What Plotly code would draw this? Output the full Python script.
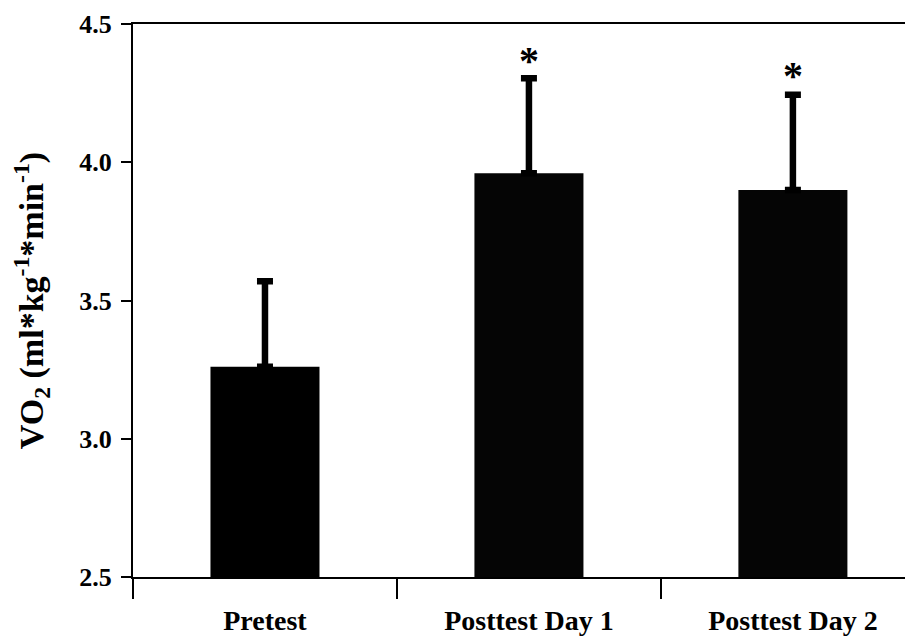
import plotly.graph_objects as go

categories = ["Pretest", "Posttest Day 1", "Posttest Day 2"]
means = [3.26, 3.96, 3.90]
sd_upper = [0.31, 0.344, 0.344]
star_y = [None, 4.355, 4.30]
star_text = ["", "*", "*"]
y_ticks = [2.5, 3.0, 3.5, 4.0, 4.5]
y_tick_labels = ["2.5", "3.0", "3.5", "4.0", "4.5"]
boundary_ticks = [-0.5, 0.5, 1.5]

FONT = "Liberation Serif"
xpos = list(range(len(categories)))
XR = [-0.5, 2.455]

fig = go.Figure()
fig.add_trace(go.Bar(
    x=xpos, y=[m - 2.5 for m in means], base=2.5,
    width=0.413,
    marker=dict(color=["#000000", "#050505", "#050505"], line=dict(width=0)),
    error_y=dict(type="data", array=sd_upper, symmetric=False,
                 arrayminus=[0, 0, 0], color="#000000", thickness=6.5, width=8),
    showlegend=False, hoverinfo="skip",
))
fig.add_trace(go.Scatter(
    x=xpos, y=star_y, mode="text", text=[f"<b>{s}</b>" if s else "" for s in star_text],
    textfont=dict(family=FONT, size=40, color="#000000"),
    textposition="middle center", showlegend=False, hoverinfo="skip",
))
fig.add_trace(go.Scatter(x=xpos, y=[None]*3, xaxis="x2", showlegend=False, hoverinfo="skip"))

# page body adds an 8px offset; figure is sized so its frame lands on the reference frame
fig.update_layout(
    width=905, height=630,
    margin=dict(l=125, r=0, t=16, b=61, autoexpand=False),
    paper_bgcolor="white", plot_bgcolor="white",
    font=dict(family=FONT, color="#000000"),
    xaxis=dict(range=XR, tickmode="array", tickvals=boundary_ticks,
               ticktext=["", "", ""], ticks="outside", ticklen=20, tickwidth=2,
               tickcolor="#000000", showline=True, linecolor="#000000", linewidth=2,
               mirror=True, showgrid=False, zeroline=False, automargin=False),
    xaxis2=dict(range=XR, overlaying="x", side="bottom", tickmode="array",
                tickvals=xpos, ticktext=[f"<b>{c}</b>" for c in categories],
                ticks="", showline=False, showgrid=False, zeroline=False,
                ticklabelstandoff=24, automargin=False,
                tickfont=dict(family=FONT, size=28, color="#000000")),
    yaxis=dict(range=[2.5, 4.5], tickmode="array", tickvals=y_ticks,
               ticktext=[f"<b>{t}</b>" for t in y_tick_labels],
               ticks="outside", ticklen=10, tickwidth=2, tickcolor="#000000",
               showline=True, linecolor="#000000", linewidth=2, mirror=False,
               showgrid=False, zeroline=False, ticklabelstandoff=4, automargin=False,
               tickfont=dict(family=FONT, size=26, color="#000000"),
               title=dict(text="<b>VO<sub>2</sub> (ml*kg<sup>-1</sup>*min<sup>-1</sup>)</b>",
                          font=dict(family=FONT, size=34, color="#000000"), standoff=38)),
)

fig.write_html("out.html")
